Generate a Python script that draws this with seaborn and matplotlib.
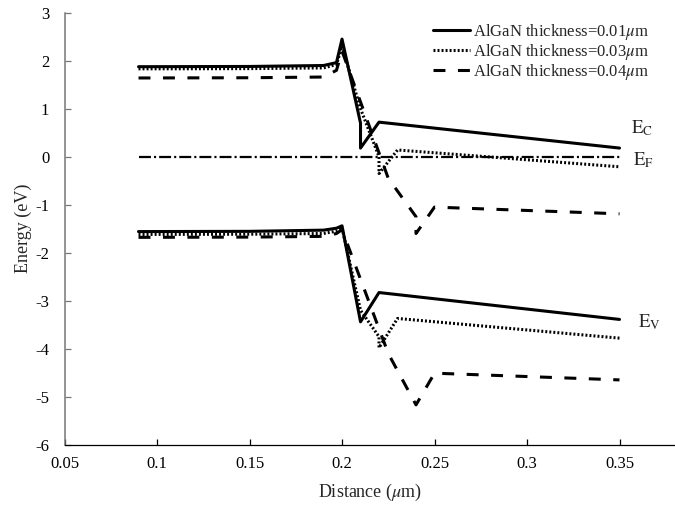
import matplotlib
matplotlib.use("Agg")
import matplotlib.pyplot as plt
import seaborn as sns

# ---- data ----
# Conduction band, AlGaN thickness = 0.01 um (solid)
x_ec_01 = [0.09, 0.15, 0.19, 0.197, 0.2, 0.21, 0.21, 0.22, 0.35]
y_ec_01 = [1.875, 1.88, 1.90, 1.96, 2.45, 0.70, 0.18, 0.72, 0.18]
# Conduction band, 0.03 um (dotted)
x_ec_03 = [0.09, 0.15, 0.19, 0.197, 0.2, 0.21, 0.22, 0.22, 0.23, 0.35]
y_ec_03 = [1.83, 1.835, 1.85, 1.92, 2.3, 1.0, 0.0, -0.35, 0.14, -0.21]
# Conduction band, 0.04 um (dashed)
x_ec_04 = [0.09, 0.15, 0.19, 0.197, 0.2, 0.225, 0.24, 0.24, 0.25, 0.35]
y_ec_04 = [1.64, 1.645, 1.66, 1.80, 2.2, -0.45, -1.25, -1.6, -1.05, -1.19]
# Fermi level
x_ef = [0.09, 0.35]
y_ef = [0.0, 0.0]
# Valence band, 0.01 um
x_ev_01 = [0.09, 0.15, 0.19, 0.197, 0.2, 0.21, 0.22, 0.35]
y_ev_01 = [-1.56, -1.555, -1.53, -1.49, -1.44, -3.44, -2.83, -3.39]
# Valence band, 0.03 um
x_ev_03 = [0.09, 0.15, 0.19, 0.197, 0.2, 0.21, 0.22, 0.22, 0.23, 0.35]
y_ev_03 = [-1.62, -1.615, -1.60, -1.55, -1.48, -3.2, -3.75, -3.98, -3.37, -3.78]
# Valence band, 0.04 um
x_ev_04 = [0.09, 0.15, 0.19, 0.197, 0.2, 0.225, 0.24, 0.25, 0.35]
y_ev_04 = [-1.68, -1.675, -1.66, -1.60, -1.52, -4.1, -5.17, -4.51, -4.65]

legend_labels = ["AlGaN thickness=0.01$\\mu$m",
                 "AlGaN thickness=0.03$\\mu$m",
                 "AlGaN thickness=0.04$\\mu$m"]
x_ticks = [0.05, 0.1, 0.15, 0.2, 0.25, 0.3, 0.35]
x_tick_labels = ["0.05", "0.1", "0.15", "0.2", "0.25", "0.3", "0.35"]
y_ticks = [-6, -5, -4, -3, -2, -1, 0, 1, 2, 3]
y_tick_labels = ["-6", "-5", "-4", "-3", "-2", "-1", "0", "1", "2", "3"]

# ---- style ----
sns.set_theme(style="white")
plt.rcParams["font.family"] = ["Liberation Serif", "DejaVu Serif"]
plt.rcParams["mathtext.fontset"] = "stix"
plt.rcParams["axes.unicode_minus"] = False
plt.rcParams["lines.scale_dashes"] = False

fig = plt.figure(figsize=(6.75, 5.08), dpi=100)
ax = fig.add_axes([0.0956, 0.1246, 0.9044, 0.8504])

solid = dict(color="black", lw=2.2, linestyle="-")
dotted = dict(color="black", lw=2.2, linestyle=(0, (1.4, 1.5)))
dashed = dict(color="black", lw=2.2, linestyle=(0, (8.6, 9.0)))
dashdot = dict(color="black", lw=1.6, linestyle=(0, (8.6, 2.2, 1.5, 2.2)))

kw = dict(ax=ax, estimator=None, sort=False, legend=False)
sns.lineplot(x=x_ec_01, y=y_ec_01, **kw, **solid)
h1 = ax.lines[-1]
sns.lineplot(x=x_ec_03, y=y_ec_03, **kw, **dotted)
h2 = ax.lines[-1]
sns.lineplot(x=x_ec_04, y=y_ec_04, **kw, **dashed)
h3 = ax.lines[-1]
sns.lineplot(x=x_ef, y=y_ef, **kw, **dashdot)
sns.lineplot(x=x_ev_01, y=y_ev_01, **kw, **solid)
sns.lineplot(x=x_ev_03, y=y_ev_03, **kw, **dotted)
sns.lineplot(x=x_ev_04, y=y_ev_04, **kw, **dashed)

ax.set_xlim(0.05, 0.38)
ax.set_ylim(-6, 3)
ax.set_xticks(x_ticks)
ax.set_xticklabels(x_tick_labels)
ax.set_yticks(y_ticks)
ax.set_yticklabels(y_tick_labels)

for s in ["top", "right"]:
    ax.spines[s].set_visible(False)
ax.spines["bottom"].set_color("black")
ax.spines["bottom"].set_linewidth(0.9)
ax.spines["left"].set_color("#777777")
ax.spines["left"].set_linewidth(1.1)

ax.tick_params(axis="both", direction="in", length=4, width=0.9,
               labelsize=12, labelcolor="black", left=True, bottom=True)
ax.tick_params(axis="x", pad=8, color="black")
ax.tick_params(axis="y", pad=11, color="#777777")

ax.set_xlabel("Distance ($\\mu$m)", fontsize=13)
ax.set_ylabel("Energy (eV)", fontsize=13)
ax.xaxis.set_label_coords(0.5, -0.086)
ax.yaxis.set_label_coords(-0.053, 0.5)

ax.text(0.3563, 0.49, "$\\mathrm{E_C}$", fontsize=13.5, va="baseline", ha="left")
ax.text(0.3574, -0.17, "$\\mathrm{E_F}$", fontsize=13.5, va="baseline", ha="left")
ax.text(0.360, -3.55, "$\\mathrm{E_V}$", fontsize=13.5, va="baseline", ha="left")

leg = ax.legend([h1, h2, h3], legend_labels, loc="upper left",
                bbox_to_anchor=(433 / 675, 1 - 22 / 508),
                bbox_transform=fig.transFigure, frameon=False,
                fontsize=12, handlelength=2.2, handletextpad=0.2,
                labelspacing=0.0, borderpad=0, borderaxespad=0)

fig.savefig("out.png", dpi=100)
